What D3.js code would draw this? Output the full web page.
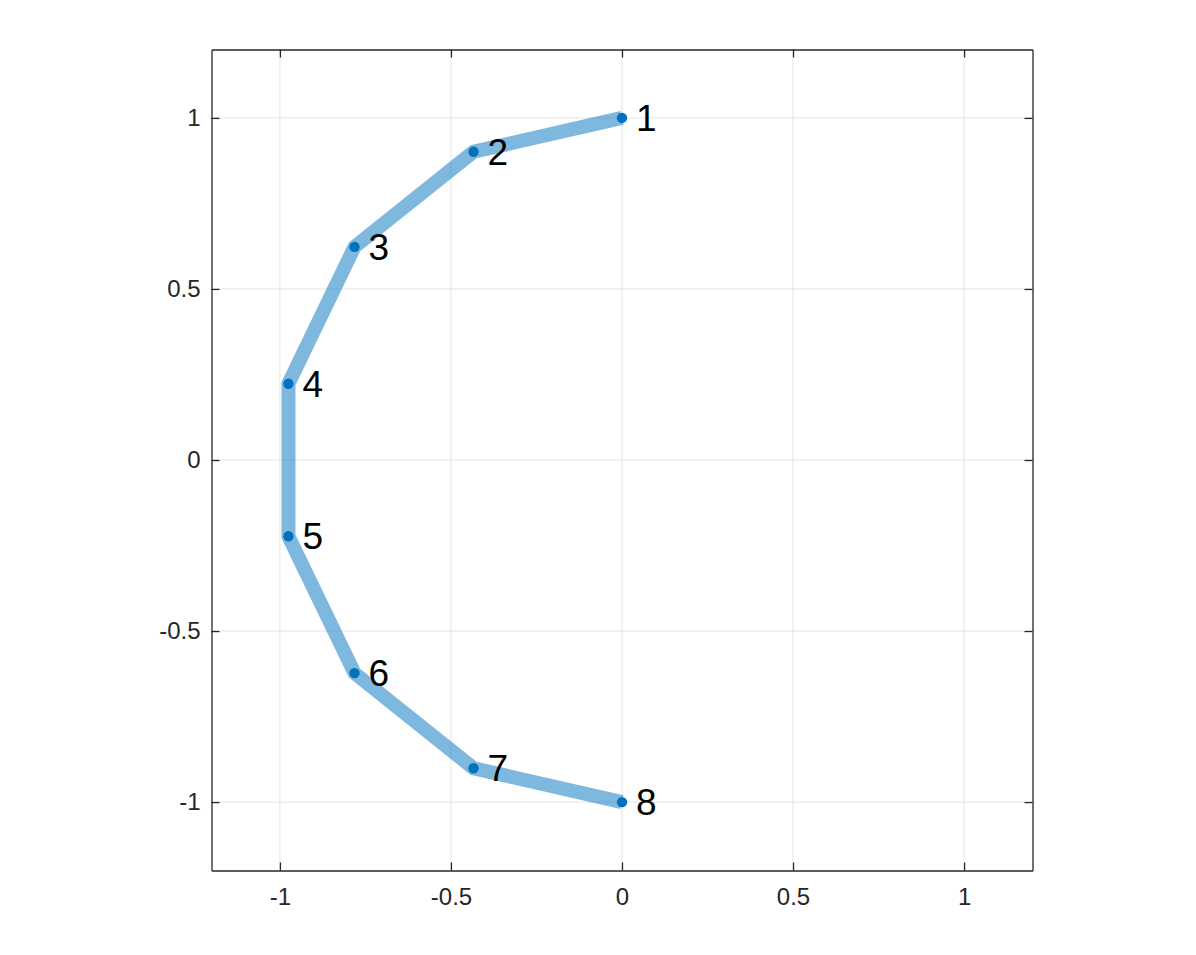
<!DOCTYPE html>
<html>
<head>
<meta charset="utf-8">
<script src="https://cdn.jsdelivr.net/npm/d3@7"></script>
<style>
  html, body { margin: 0; padding: 0; background: #fff; }
  svg { display: block; }
  text { font-family: "Liberation Sans", Arial, Helvetica, sans-serif; }
</style>
</head>
<body>
<svg id="chart" width="1196" height="955"></svg>
<script>
// Data
const pointLabels = ["1", "2", "3", "4", "5", "6", "7", "8"];
const xValues = [0, -0.434, -0.782, -0.975, -0.975, -0.782, -0.434, 0];
const yValues = [1, 0.901, 0.623, 0.223, -0.223, -0.623, -0.901, -1];
const xTicks = [-1, -0.5, 0, 0.5, 1];
const yTicks = [-1, -0.5, 0, 0.5, 1];
const xDomain = [-1.2, 1.2];
const yDomain = [-1.2, 1.2];

(function () {
const svg = d3.select("#chart");
const pLeft = 211.5, pRight = 1032.5, pTop = 49.5, pBottom = 870.5;

const x = d3.scaleLinear().domain(xDomain).range([pLeft, pRight]);
const y = d3.scaleLinear().domain(yDomain).range([pBottom, pTop]);

const tickFmt = d => String(d);
const gridColor = "#e3e3e3";
const axisColor = "#262626";

// grid
const grid = svg.append("g");
grid.selectAll("line.gx").data(xTicks).join("line")
  .attr("x1", d => x(d)).attr("x2", d => x(d))
  .attr("y1", pTop).attr("y2", pBottom)
  .attr("stroke", gridColor).attr("stroke-width", 1);
grid.selectAll("line.gy").data(yTicks).join("line")
  .attr("y1", d => y(d)).attr("y2", d => y(d))
  .attr("x1", pLeft).attr("x2", pRight)
  .attr("stroke", gridColor).attr("stroke-width", 1);

// axes (ticks inside, box)
const tickLen = 8;
const axB = svg.append("g").attr("transform", `translate(0,${pBottom})`)
  .call(d3.axisBottom(x).tickValues(xTicks).tickFormat(tickFmt).tickSizeInner(-tickLen).tickSizeOuter(0).tickPadding(17));
const axT = svg.append("g").attr("transform", `translate(0,${pTop})`)
  .call(d3.axisTop(x).tickValues(xTicks).tickFormat("").tickSizeInner(-tickLen).tickSizeOuter(0));
const axL = svg.append("g").attr("transform", `translate(${pLeft},0)`)
  .call(d3.axisLeft(y).tickValues(yTicks).tickFormat(tickFmt).tickSizeInner(-tickLen).tickSizeOuter(0).tickPadding(11));
const axR = svg.append("g").attr("transform", `translate(${pRight},0)`)
  .call(d3.axisRight(y).tickValues(yTicks).tickFormat("").tickSizeInner(-tickLen).tickSizeOuter(0));

[axB, axT, axL, axR].forEach(g => {
  g.attr("font-size", null).attr("font-family", null);
  g.select(".domain").attr("stroke", axisColor).attr("stroke-width", 1.3);
  g.selectAll(".tick line").attr("stroke", axisColor).attr("stroke-width", 1.3);
  g.selectAll(".tick text").attr("fill", axisColor)
    .attr("font-size", 24)
    .style("font-size", "24px")
    .style("font-family", "'Liberation Sans', Arial, Helvetica, sans-serif");
});

// data
const pts = xValues.map((v, i) => ({ x: v, y: yValues[i], label: pointLabels[i] }));

svg.append("path")
  .datum(pts)
  .attr("d", d3.line().x(d => x(d.x)).y(d => y(d.y)))
  .attr("fill", "none")
  .attr("stroke", "#0072BD")
  .attr("stroke-opacity", 0.5)
  .attr("stroke-width", 14)
  .attr("stroke-linejoin", "miter");

svg.append("g").selectAll("circle").data(pts).join("circle")
  .attr("cx", d => x(d.x)).attr("cy", d => y(d.y))
  .attr("r", 5.2)
  .attr("fill", "#0072BD");

svg.append("g").selectAll("text").data(pts).join("text")
  .attr("x", d => x(d.x) + 14)
  .attr("y", d => y(d.y) + 13)
  .attr("fill", "#000")
  .style("font-size", "37px")
  .text(d => d.label);
})();
</script>
</body>
</html>
